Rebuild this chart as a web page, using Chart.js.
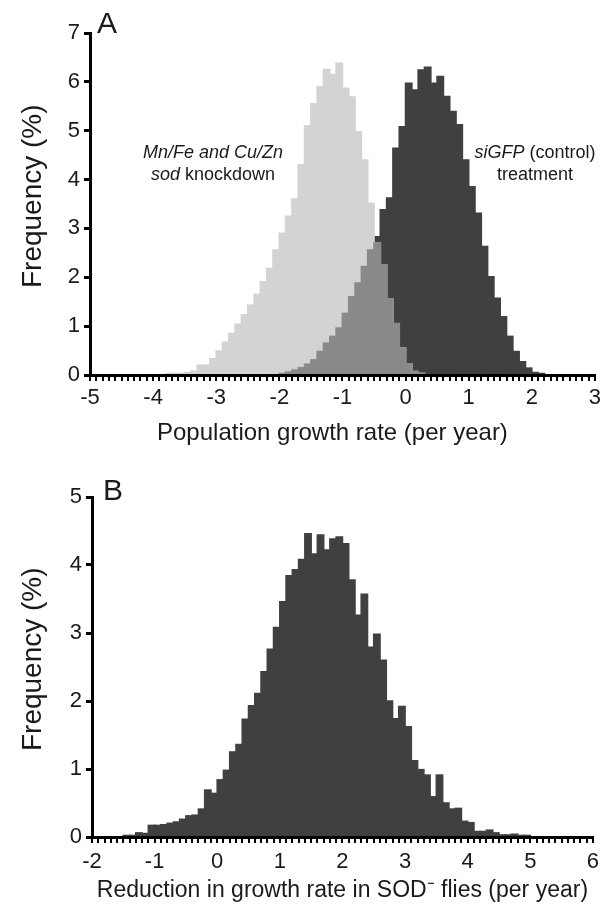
<!DOCTYPE html>
<html lang="en">
<head>
<meta charset="UTF-8" />
<title>Growth rate histograms</title>
<script src="https://cdn.jsdelivr.net/npm/chart.js"></script>
<style>
  html, body { margin: 0; padding: 0; background: #fff; }
  #wrap { position: relative; width: 607px; height: 906px; }
  .panel { position: absolute; left: 0; width: 607px; }
  #panelA { top: 0; height: 460px; }
  #panelB { top: 450px; height: 456px; }
</style>
</head>
<body>
<div id="wrap">
  <div class="panel" id="panelA"><canvas id="chartA"></canvas></div>
  <div class="panel" id="panelB"><canvas id="chartB"></canvas></div>
</div>
<script>
  const FONT = "'Liberation Sans', Arial, Helvetica, sans-serif";
  const INK = '#1a1a1a';

  // Panel A: left edge of each 0.1-wide bin (per year) and frequency (%)
  const binsA = [
    -3.8, -3.7, -3.6, -3.5, -3.4, -3.3, -3.2, -3.1, -3.0, -2.9,
    -2.8, -2.7, -2.6, -2.5, -2.4, -2.3, -2.2, -2.1, -2.0, -1.9,
    -1.8, -1.7, -1.6, -1.5, -1.4, -1.3, -1.2, -1.1, -1.0, -0.9,
    -0.8, -0.7, -0.6, -0.5, -0.4, -0.3, -0.2, -0.1, 0.0, 0.1,
    0.2, 0.3, 0.4, 0.5, 0.6, 0.7, 0.8, 0.9, 1.0, 1.1,
    1.2, 1.3, 1.4, 1.5, 1.6, 1.7, 1.8, 1.9, 2.0, 2.1
  ];
  const sodKnockdown = [
    0.01, 0.02, 0.03, 0.05, 0.08, 0.20, 0.20, 0.33, 0.49, 0.67,
    0.85, 1.04, 1.23, 1.43, 1.65, 1.91, 2.18, 2.56, 2.90, 3.25,
    3.60, 4.30, 5.10, 5.55, 5.90, 6.25, 6.15, 6.38, 5.87, 5.69,
    4.98, 4.40, 3.51, 2.70, 2.25, 1.55, 1.05, 0.55, 0.22, 0.07,
    0.02, 0, 0, 0, 0, 0, 0, 0, 0, 0,
    0, 0, 0, 0, 0, 0, 0, 0, 0, 0
  ];
  const siGFPControl = [
    0, 0, 0, 0, 0, 0, 0, 0, 0, 0,
    0, 0, 0, 0, 0, 0, 0, 0, 0.03, 0.06,
    0.10, 0.15, 0.22, 0.31, 0.48, 0.65, 0.79, 0.96, 1.26, 1.60,
    1.88, 2.22, 2.56, 2.83, 3.38, 3.62, 4.64, 5.08, 5.97, 5.83,
    6.24, 6.30, 5.97, 6.11, 5.70, 5.39, 5.12, 4.40, 3.85, 3.31,
    2.63, 2.01, 1.57, 1.19, 0.79, 0.48, 0.27, 0.14, 0.05, 0.02
  ];

  // Panel B: reduction in growth rate in SOD- flies
  const binsB = [
    -1.5, -1.4, -1.3, -1.2, -1.1, -1.0, -0.9, -0.8, -0.7, -0.6,
    -0.5, -0.4, -0.3, -0.2, -0.1, 0.0, 0.1, 0.2, 0.3, 0.4,
    0.5, 0.6, 0.7, 0.8, 0.9, 1.0, 1.1, 1.2, 1.3, 1.4,
    1.5, 1.6, 1.7, 1.8, 1.9, 2.0, 2.1, 2.2, 2.3, 2.4,
    2.5, 2.6, 2.7, 2.8, 2.9, 3.0, 3.1, 3.2, 3.3, 3.4,
    3.5, 3.6, 3.7, 3.8, 3.9, 4.0, 4.1, 4.2, 4.3, 4.4,
    4.5, 4.6, 4.7, 4.8, 4.9
  ];
  const reduction = [
    0.01, 0.02, 0.06, 0.05, 0.17, 0.17, 0.18, 0.20, 0.22, 0.26,
    0.31, 0.32, 0.41, 0.69, 0.64, 0.84, 0.98, 1.25, 1.36, 1.73,
    1.93, 2.11, 2.43, 2.76, 3.08, 3.46, 3.84, 3.93, 4.08, 4.46,
    4.16, 4.44, 4.22, 4.38, 4.41, 4.31, 3.78, 3.26, 3.57, 2.79,
    2.98, 2.60, 2.00, 1.74, 1.92, 1.62, 1.12, 0.99, 0.91, 0.59,
    0.91, 0.50, 0.41, 0.42, 0.23, 0.21, 0.08, 0.08, 0.10, 0.06,
    0.03, 0.03, 0.04, 0.01, 0.01
  ];

  const BIN = 0.1;
  const LIGHT = '#d3d3d3';
  const MID = '#898989';
  const DARK = '#404040';

  function toPoints(bins, vals) {
    return bins.map((b, i) => ({ x: b + BIN / 2, y: vals[i] }));
  }
  // where both distributions are present the picture shows a mid grey
  const overlapA = sodKnockdown.map((v, i) => Math.min(v, siGFPControl[i]));

  function font(size, style) {
    return { family: FONT, size: size, style: style || 'normal', lineHeight: 1 };
  }

  function barSet(data, color, order) {
    return {
      data: data,
      backgroundColor: color,
      borderWidth: 0,
      barPercentage: 1,
      categoryPercentage: 1,
      inflateAmount: 0.8,
      grouped: false,
      order: order
    };
  }

  function axes(o) {
    return {
      x: {
        type: 'linear', min: o.xmin, max: o.xmax, offset: false,
        ticks: {
          stepSize: 0.1, autoSkip: false, maxRotation: 0, minRotation: 0,
          callback: v => Math.abs(v - Math.round(v)) < 1e-6 ? String(Math.round(v)) : '',
          font: font(22), color: INK, padding: o.xpad
        },
        grid: { offset: false, drawOnChartArea: false, tickLength: 6, lineWidth: 2, color: '#000' },
        border: { display: true, color: '#000', width: 3, z: 1 },
        title: { display: true, text: o.xtitle, font: font(o.xfs), color: INK, padding: 0 },
        afterFit: s => { s.height = o.xh; }
      },
      y: {
        min: 0, max: o.ymax,
        ticks: { stepSize: 1, font: font(22), color: INK, padding: 4 },
        grid: { drawOnChartArea: false, tickLength: 6, lineWidth: 3, color: '#000' },
        border: { display: true, color: '#000', width: 3, z: 1 },
        // leading spaces nudge the title a little up the axis, as in the original
        title: { display: true, text: '  Frequency (%)', font: font(28), color: INK, padding: { top: 19, bottom: 0 } },
        afterFit: s => { s.width = o.yw; }
      }
    };
  }

  // panel letter and in-plot notes
  function textPlugin(letter, notes) {
    return {
      id: 'notes',
      afterDraw(chart) {
        const { ctx, chartArea, scales } = chart;
        ctx.save();
        ctx.fillStyle = INK;
        ctx.textBaseline = 'alphabetic';
        ctx.textAlign = 'left';
        ctx.font = '30px ' + FONT;
        ctx.fillText(letter.text, chartArea.left + letter.dx, chartArea.top + letter.dy);
        ctx.textBaseline = 'middle';
        notes.forEach(n => {
          let total = 0;
          const widths = n.runs.map(r => {
            ctx.font = (r[1] ? 'italic ' : '') + '18px ' + FONT;
            const w = ctx.measureText(r[0]).width;
            total += w;
            return w;
          });
          let x = scales.x.getPixelForValue(n.x) - total / 2;
          const y = scales.y.getPixelForValue(n.y);
          n.runs.forEach((r, i) => {
            ctx.font = (r[1] ? 'italic ' : '') + '18px ' + FONT;
            ctx.fillText(r[0], x, y);
            x += widths[i];
          });
        });
        ctx.restore();
      }
    };
  }

  const notesA = [
    { x: -3.05, y: 4.54, runs: [['Mn/Fe and Cu/Zn', true]] },
    { x: -3.05, y: 4.09, runs: [['sod', true], [' knockdown', false]] },
    { x: 2.05, y: 4.54, runs: [['siGFP', true], [' (control)', false]] },
    { x: 2.05, y: 4.09, runs: [['treatment', false]] }
  ];

  const common = {
    responsive: true,
    maintainAspectRatio: false,
    animation: false,
    plugins: { legend: { display: false }, tooltip: { enabled: false } }
  };

  new Chart(document.getElementById('chartA'), {
    type: 'bar',
    data: {
      datasets: [
        barSet(toPoints(binsA, overlapA), MID, 0),
        barSet(toPoints(binsA, sodKnockdown), LIGHT, 1),
        barSet(toPoints(binsA, siGFPControl), DARK, 2)
      ]
    },
    options: Object.assign({}, common, {
      layout: { padding: { left: 0, right: 11, top: 33, bottom: 15 } },
      scales: axes({ xmin: -5, xmax: 3, ymax: 7, xtitle: 'Population growth rate (per year)   ', xfs: 24, xpad: 6, xh: 70, yw: 90 })
    }),
    plugins: [textPlugin({ text: 'A', dx: 7, dy: 0 }, notesA)]
  });

  new Chart(document.getElementById('chartB'), {
    type: 'bar',
    data: {
      datasets: [barSet(toPoints(binsB, reduction), DARK, 0)]
    },
    options: Object.assign({}, common, {
      layout: { padding: { left: 0, right: 11, top: 47, bottom: 4 } },
      scales: axes({ xmin: -2, xmax: 6, ymax: 5, xtitle: 'Reduction in growth rate in SOD\u207B flies (per year)', xfs: 23, xpad: 8, xh: 65, yw: 92 })
    }),
    plugins: [textPlugin({ text: 'B', dx: 11, dy: 3 }, [])]
  });
</script>
</body>
</html>
